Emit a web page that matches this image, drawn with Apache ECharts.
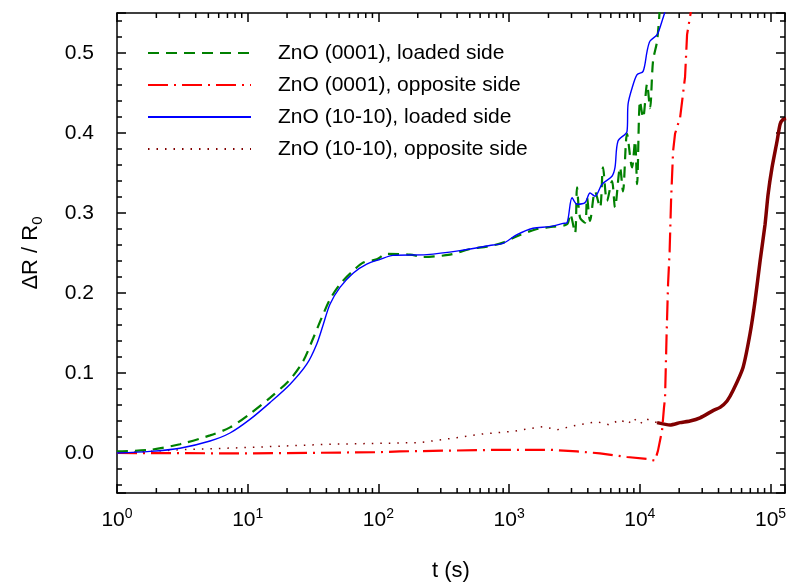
<!DOCTYPE html>
<html>
<head>
<meta charset="utf-8">
<script src="https://cdn.jsdelivr.net/npm/echarts@6/dist/echarts.min.js"></script>
<style>
  html, body { margin: 0; padding: 0; background: #fff; }
  #chart { width: 790px; height: 586px; }
</style>
</head>
<body>
<div id="chart"></div>
<script>
// [t (s), dR/R0]
var loaded0001 = [[1,0.002],[1.79,0.004],[3.03,0.011],[5.15,0.022],[7.32,0.032],[10.4,0.049],[14.8,0.069],[21.1,0.092],[26.6,0.115],[31.8,0.144],[36.8,0.169],[42.6,0.192],[50.8,0.211],[64.3,0.228],[76.7,0.238],[97,0.242],[116,0.249],[175,0.248],[219,0.245],[353,0.248],[502,0.255],[678,0.258],[898,0.263],[1149,0.271],[1633,0.28],[2168,0.283],[2775,0.286],[2924,0.299],[3193,0.275],[3308,0.332],[3488,0.294],[3808,0.288],[3945,0.319],[4159,0.29],[4540,0.327],[4961,0.307],[5227,0.357],[5610,0.315],[6124,0.34],[6457,0.307],[7057,0.357],[7430,0.327],[7980,0.399],[8717,0.357],[9190,0.39],[9525,0.336],[10035,0.44],[10590,0.419],[11360,0.461],[11970,0.431],[12620,0.49],[13550,0.515],[14280,0.56]];
var opposite0001 = [[1,0],[10.4,-0.0005],[99.3,0.001],[146,0.002],[353,0.003],[851,0.004],[2056,0.004],[3308,0.002],[4958,-0.0005],[7980,-0.005],[11360,-0.0075],[13060,-0.0096],[13770,0.003],[14790,0.028],[15310,0.057],[15590,0.069],[16000,0.144],[16440,0.211],[16900,0.252],[17330,0.315],[17960,0.377],[18590,0.399],[19500,0.41],[20320,0.419],[22180,0.47],[22980,0.523],[25060,0.56]];
var loaded1010 = [[1,0],[1.79,0.002],[3.03,0.006],[5.15,0.015],[7.32,0.025],[10.4,0.042],[14.8,0.063],[21.1,0.086],[28.3,0.111],[33.7,0.136],[37.9,0.161],[42.6,0.186],[50.8,0.207],[64.3,0.225],[81.4,0.236],[103,0.242],[129,0.247],[235,0.248],[421,0.253],[753,0.26],[898,0.262],[1149,0.273],[1523,0.281],[2056,0.283],[2585,0.287],[2775,0.288],[3030,0.319],[3308,0.311],[3808,0.313],[4159,0.325],[4540,0.321],[5136,0.336],[6124,0.346],[6457,0.357],[6808,0.39],[7980,0.402],[8128,0.436],[8717,0.456],[9525,0.473],[10590,0.477],[11360,0.502],[11970,0.515],[13550,0.523],[14790,0.54],[16150,0.56]];
var opposite1010 = [[1,0],[3,0.004],[10.4,0.007],[42.6,0.011],[99.3,0.012],[208,0.013],[353,0.018],[640,0.024],[1060,0.027],[1817,0.033],[2325,0.029],[3308,0.035],[4707,0.039],[5916,0.035],[7057,0.042],[8128,0.036],[8870,0.044],[10035,0.036],[10970,0.043],[13550,0.038]];
var opposite1010Late = [[13550,0.038],[17020,0.035],[20320,0.038],[24210,0.04],[28910,0.044],[36310,0.053],[41110,0.057],[46470,0.065],[51640,0.078],[61610,0.107],[69660,0.149],[76090,0.19],[83180,0.24],[90820,0.286],[95710,0.323],[102700,0.357],[112200,0.39],[118300,0.411],[124700,0.417],[131500,0.418]];

var seriesNames = ['ZnO (0001), loaded side', 'ZnO (0001), opposite side', 'ZnO (10-10), loaded side', 'ZnO (10-10), opposite side'];

var xMin = 1, xMax = 129000;
var yMin = -0.05, yMax = 0.55;
var xMinorMultipliers = [2, 3, 4, 5, 6, 7, 8, 9];
var xDecades = [1, 10, 100, 1000, 10000];
var yMinorTicks = [-0.04,-0.02,0.02,0.04,0.06,0.08,0.12,0.14,0.16,0.18,0.22,0.24,0.26,0.28,0.32,0.34,0.36,0.38,0.42,0.44,0.46,0.48,0.52,0.54];

var xMinorTicks = [];
xDecades.forEach(function (d) {
  xMinorMultipliers.forEach(function (m) {
    if (m * d < xMax) xMinorTicks.push(m * d);
  });
});

var font = 'Liberation Sans, Arial, sans-serif';
var axisLine = { show: true, onZero: false, lineStyle: { color: '#000', width: 1.5 } };
var majorTick = { show: true, inside: true, length: 9, lineStyle: { color: '#000', width: 1.5 } };

function tickLine(x1, y1, x2, y2) {
  return { type: 'line', shape: { x1: x1, y1: y1, x2: x2, y2: y2 }, style: { stroke: '#000', lineWidth: 1.5 } };
}

var chart = echarts.init(document.getElementById('chart'));

var option = {
  animation: false,
  backgroundColor: '#fff',
  grid: { left: 117, right: 5, top: 13, bottom: 93, containLabel: false, outerBoundsMode: 'none' },
  legend: {
    data: seriesNames,
    orient: 'vertical',
    left: 147,
    top: 41,
    padding: 0,
    itemWidth: 103,
    itemHeight: 14,
    itemGap: 8,
    selectedMode: false,
    itemStyle: { opacity: 0 },
    textStyle: { fontFamily: font, fontSize: 21, color: '#000', lineHeight: 24, padding: [0, 0, 0, 22] }
  },
  xAxis: [{
    type: 'log',
    min: xMin,
    max: xMax,
    logBase: 10,
    name: 't (s)',
    nameLocation: 'middle',
    nameGap: 67,
    nameTextStyle: { fontFamily: font, fontSize: 22, color: '#000' },
    axisLine: axisLine,
    axisTick: majorTick,
    splitLine: { show: false },
    axisLabel: {
      margin: 14,
      formatter: function (v) {
        var l = Math.log10(v), n = Math.round(l);
        if (Math.abs(l - n) > 1e-6) return '';
        return '{b|10}{e|' + n + '}';
      },
      rich: {
        b: { fontFamily: font, fontSize: 21, color: '#000', lineHeight: 26 },
        e: { fontFamily: font, fontSize: 14, color: '#000', lineHeight: 16, verticalAlign: 'top' }
      }
    }
  }, {
    type: 'log',
    min: xMin,
    max: xMax,
    logBase: 10,
    position: 'top',
    axisLine: axisLine,
    axisTick: majorTick,
    axisLabel: { show: false },
    splitLine: { show: false }
  }],
  yAxis: [{
    type: 'value',
    min: yMin,
    max: yMax,
    splitNumber: 6,
    name: '{a|ΔR / R}{s|0}',
    nameLocation: 'middle',
    nameRotate: 90,
    nameGap: 72,
    nameTextStyle: {
      rich: {
        a: { fontFamily: font, fontSize: 22, color: '#000', lineHeight: 28 },
        s: { fontFamily: font, fontSize: 15, color: '#000', lineHeight: 16, verticalAlign: 'bottom' }
      }
    },
    axisLine: axisLine,
    axisTick: majorTick,
    splitLine: { show: false },
    axisLabel: {
      margin: 23,
      fontFamily: font,
      fontSize: 21,
      color: '#000',
      formatter: function (v) {
        var k = Math.round(v * 10);
        if (Math.abs(v * 10 - k) > 1e-6) return '';
        return (k / 10).toFixed(1);
      }
    }
  }, {
    type: 'value',
    min: yMin,
    max: yMax,
    splitNumber: 6,
    position: 'right',
    axisLine: axisLine,
    axisTick: majorTick,
    axisLabel: { show: false },
    splitLine: { show: false }
  }],
  series: [{
    name: seriesNames[0],
    type: 'line',
    data: loaded0001,
    symbol: 'none',
    smooth: 0.3,
    color: '#008000',
    lineStyle: { color: '#008000', width: 2.2, type: [11, 7] },
    z: 3
  }, {
    name: seriesNames[1],
    type: 'line',
    data: opposite0001,
    symbol: 'none',
    color: '#ff0000',
    lineStyle: { color: '#ff0000', width: 2.2, type: [20, 6, 2, 6] },
    z: 2
  }, {
    name: seriesNames[2],
    type: 'line',
    data: loaded1010,
    symbol: 'none',
    smooth: 0.3,
    color: '#0000ff',
    lineStyle: { color: '#0000ff', width: 1.4 },
    z: 4
  }, {
    name: seriesNames[3],
    type: 'line',
    data: opposite1010,
    symbol: 'none',
    color: '#800000',
    lineStyle: { color: '#800000', width: 1.5, type: [1.5, 7] },
    z: 1
  }, {
    name: 'late',
    type: 'line',
    data: opposite1010Late,
    symbol: 'none',
    smooth: 0.2,
    color: '#800000',
    lineStyle: { color: '#800000', width: 3.5 },
    z: 1
  }, {
    type: 'custom',
    silent: true,
    z: 10,
    data: xMinorTicks.map(function (t) { return [t, yMin]; }),
    renderItem: function (params, api) {
      var b = api.coord([api.value(0), yMin]);
      var t = api.coord([api.value(0), yMax]);
      return { type: 'group', children: [tickLine(b[0], b[1], b[0], b[1] - 5), tickLine(t[0], t[1], t[0], t[1] + 5)] };
    }
  }, {
    type: 'custom',
    silent: true,
    z: 10,
    data: yMinorTicks.map(function (v) { return [xMin, v]; }),
    renderItem: function (params, api) {
      var l = api.coord([xMin, api.value(1)]);
      var r = api.coord([xMax, api.value(1)]);
      return { type: 'group', children: [tickLine(l[0], l[1], l[0] + 5, l[1]), tickLine(r[0], r[1], r[0] - 5, r[1])] };
    }
  }]
};

chart.setOption(option);
</script>
</body>
</html>
